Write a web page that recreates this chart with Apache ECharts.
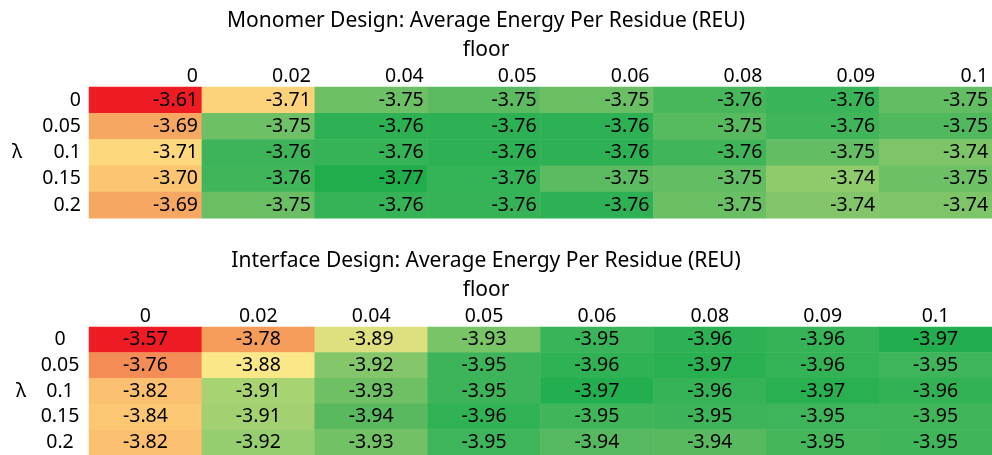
<!DOCTYPE html>
<html>
<head>
<meta charset="utf-8">
<script src="https://cdn.jsdelivr.net/npm/echarts@6/dist/echarts.min.js"></script>
<style>
html,body{margin:0;padding:0;background:#fff;}
#chart{width:992px;height:455px;}
</style>
</head>
<body>
<div id="chart"></div>
<script>
// ---- data ----
var floorLabels = ['0', '0.02', '0.04', '0.05', '0.06', '0.08', '0.09', '0.1'];
var lambdaLabels = ['0', '0.05', '0.1', '0.15', '0.2'];
var monomerTitle = 'Monomer Design: Average Energy Per Residue (REU)';
var interfaceTitle = 'Interface Design: Average Energy Per Residue (REU)';

// rows = lambda, columns = floor
var monomerValues = [
  [-3.61, -3.708, -3.746, -3.751, -3.747, -3.756, -3.760, -3.749],
  [-3.69, -3.746, -3.764, -3.764, -3.764, -3.752, -3.758, -3.754],
  [-3.712, -3.759, -3.761, -3.764, -3.764, -3.758, -3.749, -3.743],
  [-3.70, -3.758, -3.77, -3.762, -3.751, -3.749, -3.740, -3.746],
  [-3.69, -3.747, -3.761, -3.761, -3.764, -3.747, -3.742, -3.743]
];
var interfaceValues = [
  [-3.57, -3.78, -3.89, -3.928, -3.954, -3.962, -3.957, -3.97],
  [-3.76, -3.88, -3.924, -3.952, -3.961, -3.966, -3.958, -3.951],
  [-3.82, -3.91, -3.932, -3.952, -3.969, -3.957, -3.966, -3.959],
  [-3.84, -3.912, -3.941, -3.960, -3.950, -3.952, -3.951, -3.950],
  [-3.82, -3.917, -3.931, -3.951, -3.942, -3.941, -3.948, -3.950]
];

// ---- styling / scales ----
var FONT = 'Noto Sans';
var FS = 19.5;
var TFS = 21;

function hexToRgb(h) {
  return [parseInt(h.substr(1, 2), 16), parseInt(h.substr(3, 2), 16), parseInt(h.substr(5, 2), 16)];
}
function buildRamp(anchors, n) {
  var min = anchors[0][0], max = anchors[anchors.length - 1][0];
  var out = [];
  for (var i = 0; i < n; i++) {
    var v = min + (max - min) * i / (n - 1);
    var k = 0;
    while (k < anchors.length - 2 && v > anchors[k + 1][0]) k++;
    var a = anchors[k], b = anchors[k + 1];
    var t = (v - a[0]) / (b[0] - a[0]);
    t = Math.max(0, Math.min(1, t));
    var ca = hexToRgb(a[1]), cb = hexToRgb(b[1]);
    var c = ca.map(function (x, j) { return Math.round(x + (cb[j] - x) * t); });
    out.push('rgb(' + c.join(',') + ')');
  }
  return out;
}
var monoAnchors = [
  [-3.770, '#21AD4B'], [-3.764, '#2DB154'], [-3.758, '#40B55A'], [-3.752, '#58BA5F'],
  [-3.746, '#6EC066'], [-3.741, '#88C86A'], [-3.730, '#D0DC7A'], [-3.722, '#FFE584'],
  [-3.712, '#FDD87D'], [-3.708, '#FCD27B'], [-3.700, '#FBC572'], [-3.690, '#F6A862'],
  [-3.610, '#ED1C24']
];
var interAnchors = [
  [-3.970, '#22AE4F'], [-3.960, '#30B255'], [-3.950, '#40B55A'], [-3.940, '#5CBA60'],
  [-3.930, '#74C266'], [-3.920, '#8FCB6D'], [-3.910, '#A8D373'], [-3.890, '#DEE07F'],
  [-3.880, '#FAE888'], [-3.840, '#FCC773'], [-3.820, '#FBBF70'], [-3.780, '#F69C5A'],
  [-3.760, '#F48C55'], [-3.570, '#ED1C24']
];

function toCells(rows) {
  var d = [];
  rows.forEach(function (row, y) {
    row.forEach(function (v, x) { d.push([x, y, v]); });
  });
  return d;
}

var chart = echarts.init(document.getElementById('chart'));
var textBase = { fontFamily: FONT, fontSize: FS, color: '#000' };
var titleFont = TFS + 'px "' + FONT + '"';

function xAxisFor(gi, rightAligned) {
  return {
    type: 'category', gridIndex: gi, data: floorLabels, position: 'top',
    axisLine: { show: false }, axisTick: { show: false }, splitLine: { show: false },
    axisLabel: rightAligned ? {
      interval: 0, hideOverlap: false, margin: 1,
      formatter: function (v) { return '{v|' + v + '}'; },
      rich: { v: Object.assign({ width: 105, align: 'right' }, textBase) }
    } : Object.assign({ interval: 0, hideOverlap: false, margin: 1 }, textBase)
  };
}
function yAxisFor(gi, centered, gap) {
  return {
    type: 'category', gridIndex: gi, data: lambdaLabels, inverse: true,
    axisLine: { show: false }, axisTick: { show: false }, splitLine: { show: false },
    name: 'λ', nameLocation: 'middle', nameRotate: 0, nameGap: gap,
    nameTextStyle: Object.assign({ align: 'center', verticalAlign: 'middle' }, textBase),
    axisLabel: centered ? Object.assign({ interval: 0, hideOverlap: false, align: 'center', margin: 29 }, textBase)
                        : Object.assign({ interval: 0, hideOverlap: false, margin: 8 }, textBase)
  };
}
function titleText(text, y) {
  return { type: 'text', x: 486, y: y,
    style: { text: text, textAlign: 'center', textVerticalAlign: 'middle', fill: '#000', font: titleFont } };
}

var option = {
  backgroundColor: '#fff',
  animation: false,
  grid: [
    { left: 89, width: 903, top: 87, height: 131.3 },
    { left: 89, width: 903, top: 327, height: 131.3 }
  ],
  xAxis: [xAxisFor(0, true), xAxisFor(1, false)],
  yAxis: [yAxisFor(0, false, 72), yAxisFor(1, true, 68)],
  visualMap: [
    { type: 'continuous', show: false, seriesIndex: 0, dimension: 2,
      min: monoAnchors[0][0], max: monoAnchors[monoAnchors.length - 1][0],
      inRange: { color: buildRamp(monoAnchors, 321) } },
    { type: 'continuous', show: false, seriesIndex: 1, dimension: 2,
      min: interAnchors[0][0], max: interAnchors[interAnchors.length - 1][0],
      inRange: { color: buildRamp(interAnchors, 401) } }
  ],
  graphic: [
    titleText(monomerTitle, 21),
    titleText('floor', 50),
    titleText(interfaceTitle, 261),
    titleText('floor', 290)
  ],
  series: [
    {
      type: 'heatmap', xAxisIndex: 0, yAxisIndex: 0, data: toCells(monomerValues),
      itemStyle: { borderWidth: 0 },
      emphasis: { disabled: true },
      label: {
        show: true,
        formatter: function (p) { return '{v|' + p.value[2].toFixed(2) + '}'; },
        rich: { v: Object.assign({ width: 105, align: 'right' }, textBase) }
      }
    },
    {
      type: 'heatmap', xAxisIndex: 1, yAxisIndex: 1, data: toCells(interfaceValues),
      itemStyle: { borderWidth: 0 },
      emphasis: { disabled: true },
      label: {
        show: true,
        formatter: function (p) { return p.value[2].toFixed(2); },
        fontFamily: FONT, fontSize: FS, color: '#000'
      }
    }
  ]
};
chart.setOption(option);
</script>
</body>
</html>
